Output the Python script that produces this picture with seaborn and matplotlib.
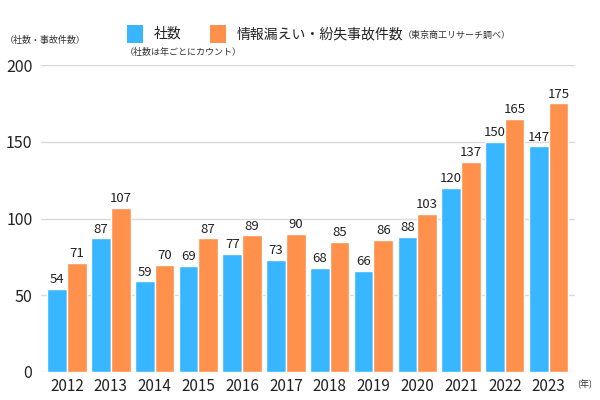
import matplotlib
matplotlib.use("Agg")
import matplotlib.pyplot as plt
from matplotlib.patches import Rectangle
import seaborn as sns
import pandas as pd

years = ["2012", "2013", "2014", "2015", "2016", "2017", "2018", "2019", "2020", "2021", "2022", "2023"]
companies = [54, 87, 59, 69, 77, 73, 68, 66, 88, 120, 150, 147]
incidents = [71, 107, 70, 87, 89, 90, 85, 86, 103, 137, 165, 175]
series_names = ["社数", "情報漏えい・紛失事故件数"]
colors = ["#38B6FF", "#FF914D"]

df = pd.DataFrame({
    "year": years * 2,
    "value": companies + incidents,
    "series": [series_names[0]] * len(years) + [series_names[1]] * len(years),
})

sns.set_theme(style="white")
plt.rcParams["font.family"] = ["Noto Sans CJK JP", "DejaVu Sans"]

fig = plt.figure(figsize=(6, 4), dpi=100)
ax = fig.add_axes([0.068, 0.07, 0.89, 0.7675])

sns.barplot(data=df, x="year", y="value", hue="series", palette=colors,
            width=0.9, edgecolor="white", linewidth=1, saturation=1,
            legend=False, ax=ax)

for cont in ax.containers:
    ax.bar_label(cont, fontsize=9.5, color="#222222", padding=2)

ax.set_ylim(0, 200)
ax.set_yticks([0, 50, 100, 150, 200])
ax.set_xlim(-0.6, len(years) - 0.4)
ax.yaxis.grid(True, color="#d9d9d9", linewidth=1)
ax.set_axisbelow(True)
for s in ax.spines.values():
    s.set_visible(False)
ax.set_xlabel("")
ax.set_ylabel("")
ax.tick_params(axis="both", length=0, labelsize=11, colors="#222222")
ax.tick_params(axis="y", labelsize=11.5, pad=6)
ax.tick_params(axis="x", pad=4)

# texts
fig.text(0.008, 0.9, "（社数・事故件数）", fontsize=6.5, color="#333333", va="center")
fig.text(577 / 600, 1 - 384 / 400, "(年)", fontsize=6.5, color="#333333", va="center")

W, H = 600, 400
def rect(x, y, w, h, c):
    fig.add_artist(Rectangle((x / W, 1 - (y + h) / H), w / W, h / H,
                             transform=fig.transFigure, facecolor=c, edgecolor="none"))

rect(127, 25, 16, 18, colors[0])
fig.text(154 / W, 1 - 34 / H, series_names[0], fontsize=10, color="#222222", va="center")
fig.text(125 / W, 1 - 52 / H, "（社数は年ごとにカウント）", fontsize=6.5, color="#333333", va="center")
rect(210, 25, 16, 18, colors[1])
fig.text(237 / W, 1 - 34 / H, series_names[1], fontsize=10, color="#222222", va="center")
fig.text(403 / W, 1 - 35 / H, "（東京商工リサーチ調べ）", fontsize=6.5, color="#333333", va="center")

fig.savefig("out.png", dpi=100)
